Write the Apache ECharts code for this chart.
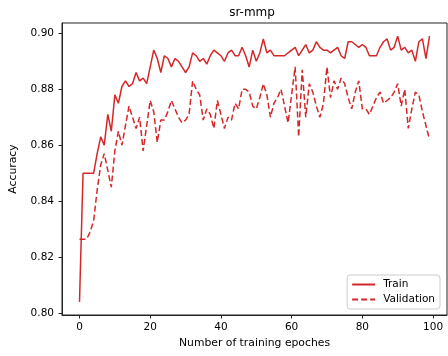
<!DOCTYPE html>
<html>
<head>
<meta charset="utf-8">
<script src="https://cdn.jsdelivr.net/npm/echarts@6/dist/echarts.min.js"></script>
<style>html,body{margin:0;padding:0;background:#fff}#c{width:448px;height:356px}</style>
</head>
<body>
<div id="c"></div>
<script>
const xTicks = [0, 20, 40, 60, 80, 100];
const yTicks = [0.80, 0.82, 0.84, 0.86, 0.88, 0.90];
const train = [
  0.804, 0.850, 0.850, 0.850, 0.850, 0.857, 0.863, 0.860, 0.871, 0.865,
  0.878, 0.875, 0.881, 0.883, 0.881, 0.882, 0.886, 0.883, 0.884, 0.882,
  0.888, 0.894, 0.891, 0.886, 0.892, 0.891, 0.888, 0.891, 0.890, 0.888,
  0.886, 0.888, 0.893, 0.892, 0.890, 0.891, 0.889, 0.892, 0.894, 0.893,
  0.892, 0.890, 0.893, 0.894, 0.892, 0.892, 0.895, 0.892, 0.888, 0.894,
  0.890, 0.893, 0.898, 0.893, 0.894, 0.892, 0.892, 0.892, 0.892, 0.893,
  0.894, 0.895, 0.892, 0.894, 0.896, 0.893, 0.894, 0.897, 0.895, 0.894,
  0.894, 0.893, 0.894, 0.895, 0.892, 0.891, 0.897, 0.897, 0.896, 0.895,
  0.896, 0.895, 0.892, 0.892, 0.892, 0.895, 0.897, 0.898, 0.894, 0.895,
  0.899, 0.894, 0.895, 0.893, 0.894, 0.890, 0.897, 0.898, 0.891, 0.899
];
const validation = [
  0.8264, 0.8264, 0.8264, 0.829, 0.833, 0.844, 0.853, 0.857, 0.851, 0.845,
  0.858, 0.865, 0.860, 0.867, 0.874, 0.870, 0.866, 0.870, 0.858, 0.867,
  0.876, 0.872, 0.861, 0.869, 0.869, 0.872, 0.876, 0.873, 0.870, 0.868,
  0.869, 0.871, 0.883, 0.880, 0.878, 0.869, 0.873, 0.871, 0.866, 0.876,
  0.871, 0.866, 0.870, 0.869, 0.875, 0.873, 0.880, 0.880, 0.879, 0.874,
  0.873, 0.877, 0.882, 0.878, 0.870, 0.875, 0.877, 0.880, 0.874, 0.868,
  0.878, 0.888, 0.863, 0.887, 0.870, 0.882, 0.879, 0.874, 0.870, 0.875,
  0.888, 0.877, 0.883, 0.880, 0.884, 0.882, 0.877, 0.873, 0.879, 0.883,
  0.873, 0.873, 0.871, 0.874, 0.877, 0.879, 0.875, 0.876, 0.877, 0.879,
  0.882, 0.874, 0.880, 0.866, 0.873, 0.879, 0.878, 0.872, 0.867, 0.862
];
const seriesNames = ['Train', 'Validation'];
const titleText = 'sr-mmp';
const xName = 'Number of training epoches';
const yName = 'Accuracy';

const font = 'DejaVu Sans';
const red = '#d62728';
const chart = echarts.init(document.getElementById('c'), null, {renderer: 'canvas'});
chart.setOption({
  animation: false,
  backgroundColor: '#fff',
  title: {
    text: titleText, left: 252, top: 7, padding: 0, textAlign: 'center',
    textStyle: {fontFamily: font, fontSize: 12, fontWeight: 'normal', color: '#000'}
  },
  grid: {left: 58, right: 1, top: 23, bottom: 41, show: true, borderColor: '#222', borderWidth: 1, backgroundColor: 'transparent'},
  legend: {
    orient: 'vertical', right: 8, bottom: 47, padding: [4, 5, 4, 4], itemGap: 4,
    itemWidth: 23, itemHeight: 12,
    backgroundColor: 'rgba(255,255,255,0.85)', borderColor: '#ccc', borderWidth: 1, borderRadius: 3,
    itemStyle: {opacity: 0, borderWidth: 0},
    textStyle: {fontFamily: font, fontSize: 10.5, color: '#000', padding: [0, 0, 0, 3]},
    data: seriesNames
  },
  xAxis: {
    type: 'value', min: -4.95, max: 103.95,
    name: xName, nameLocation: 'middle', nameGap: 21,
    nameTextStyle: {fontFamily: font, fontSize: 10.8, color: '#000'},
    axisLine: {show: true, onZero: false, lineStyle: {color: '#222', width: 1}},
    axisTick: {show: true, length: 3.5, customValues: xTicks, lineStyle: {color: '#222'}},
    axisLabel: {customValues: xTicks, margin: 7, fontFamily: font, fontSize: 10.5, color: '#000', formatter: v => String(Math.round(v))},
    splitLine: {show: false}
  },
  yAxis: {
    type: 'value', min: 0.7993, max: 0.9037,
    name: yName, nameLocation: 'middle', nameGap: 43, nameRotate: 90,
    nameTextStyle: {fontFamily: font, fontSize: 10.8, color: '#000'},
    axisLine: {show: true, onZero: false, lineStyle: {color: '#222', width: 1}},
    axisTick: {show: true, length: 3.5, customValues: yTicks, lineStyle: {color: '#222'}},
    axisLabel: {customValues: yTicks, margin: 8, fontFamily: font, fontSize: 10.5, color: '#000', formatter: v => v.toFixed(2)},
    splitLine: {show: false}
  },
  series: [
    {
      name: seriesNames[0], type: 'line', symbol: 'none', showSymbol: false,
      data: train.map((v, i) => [i, v]),
      lineStyle: {color: red, width: 1.5}, itemStyle: {color: red}
    },
    {
      name: seriesNames[1], type: 'line', symbol: 'none', showSymbol: false,
      data: validation.map((v, i) => [i, v]),
      lineStyle: {color: red, width: 1.5, type: [6, 3]}, itemStyle: {color: red}
    }
  ]
});
</script>
</body>
</html>
